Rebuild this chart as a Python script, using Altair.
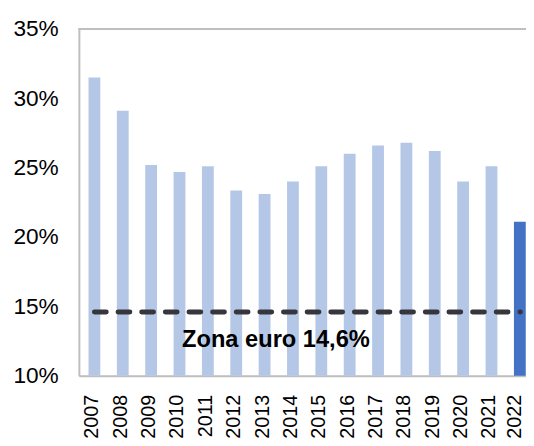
import altair as alt
import pandas as pd

years = [2007, 2008, 2009, 2010, 2011, 2012, 2013, 2014, 2015,
         2016, 2017, 2018, 2019, 2020, 2021, 2022]
values = [31.5, 29.1, 25.2, 24.7, 25.1, 23.35, 23.1, 24.0, 25.1,
          26.0, 26.6, 26.8, 26.2, 24.0, 25.1, 21.1]
highlight_year = 2022
euro_value = 14.6
euro_label = "Zona euro 14,6%"
y_ticks = [10, 15, 20, 25, 30, 35]

LIGHT = "#b4c7e7"
DARK = "#4472c4"
FRAME = "#bfbfbf"
FONT = "Liberation Sans"

df = pd.DataFrame({"year": years, "value": values})

xscale = alt.Scale(domain=[2006.453, 2022.217], nice=False, zero=False)
yscale = alt.Scale(domain=[10, 35], nice=False, zero=False)

xaxis = alt.Axis(
    values=years, format="d", labelAngle=-90, labelAlign="right",
    labelBaseline="middle", labelPadding=19,
    labelOffset={"condition": {"test": "datum.value == %d" % highlight_year,
                               "value": -5.5},
                 "value": -2.5},
    tickSize=0, ticks=False,
    labelFontSize=20, labelFont=FONT, labelColor="#000000",
    labelOverlap=False, labelFlush=False, labelBound=False, grid=False,
    domainColor=FRAME, domainWidth=2, title=None)
yaxis = alt.Axis(
    values=y_ticks, labelExpr="datum.value + '%'", ticks=False, tickSize=0,
    labelPadding=21, labelFontSize=23, labelFont=FONT, labelColor="#000000",
    labelOverlap=False, grid=False, domainColor=FRAME, domainWidth=2, title=None)

bars = alt.Chart(df).transform_calculate(
    x0="datum.year - 0.2083", x1="datum.year + 0.2083"
).mark_bar().encode(
    x=alt.X("x0:Q", scale=xscale, axis=xaxis),
    x2="x1:Q",
    y=alt.Y("value:Q", scale=yscale, axis=yaxis),
    y2=alt.datum(10),
    color=alt.condition(alt.datum.year == highlight_year,
                        alt.value(DARK), alt.value(LIGHT)),
)

top_line = alt.Chart(df).mark_rule(color=FRAME, strokeWidth=2).encode(
    y=alt.value(0), x=alt.value(0), x2=alt.value(454)
)

euro_line = alt.Chart(pd.DataFrame({"v": [euro_value]})).mark_rule(
    color="#38363d", strokeWidth=5, strokeDash=[12, 12], strokeCap="round"
).encode(
    y=alt.Y("v:Q", scale=yscale, axis=yaxis),
    x=alt.datum(2007, scale=xscale, axis=xaxis),
    x2=alt.datum(2022.02),
)

euro_text = alt.Chart(pd.DataFrame({"t": [euro_label]})).mark_text(
    font=FONT, fontSize=24, fontWeight="bold", color="#000000",
    align="center", baseline="alphabetic"
).encode(
    text="t:N",
    x=alt.datum(2013.4, scale=xscale, axis=xaxis),
    y=alt.datum(12.06, scale=yscale, axis=yaxis),
)

chart = alt.layer(bars, top_line, euro_line, euro_text).properties(
    width=454, height=352,
    padding={"left": 72, "top": 18, "right": 0, "bottom": 68},
    autosize=alt.AutoSizeParams(type="none"),
).configure_view(stroke=None).configure_axis(
    labelOverlap=False
).configure(background="white")

chart.save("out.html", embed_options={"renderer": "svg", "actions": False})
